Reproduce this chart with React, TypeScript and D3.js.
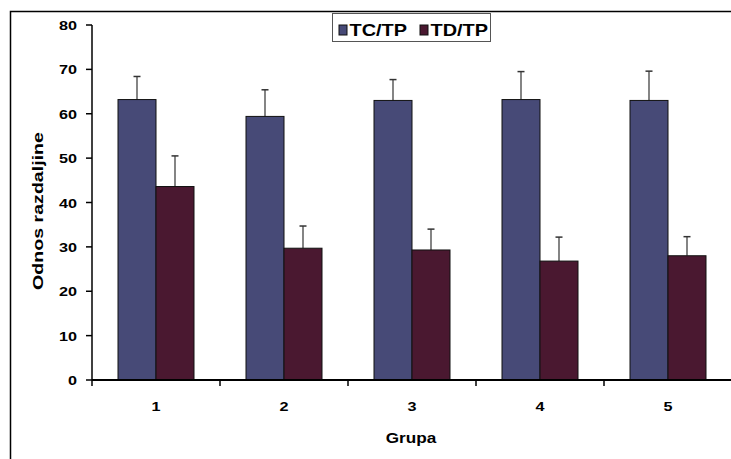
import React from "react";
import * as d3 from "d3";

const groups = ["1", "2", "3", "4", "5"];
const seriesNames = ["TC/TP", "TD/TP"];
const tcValues = [63.2, 59.4, 63.0, 63.2, 63.0];
const tcErrors = [5.2, 6.0, 4.7, 6.3, 6.6];
const tdValues = [43.6, 29.7, 29.3, 26.8, 28.0];
const tdErrors = [6.9, 5.0, 4.7, 5.4, 4.3];
const yTicks = [0, 10, 20, 30, 40, 50, 60, 70, 80];

const W = 731;
const H = 459;
const colors = ["#474A77", "#4A1830"];
const font = "'Liberation Sans', Arial, sans-serif";

export default function App() {
  const x = d3
    .scaleBand<string>()
    .domain(groups)
    .range([92, 732])
    .paddingInner(0.40625)
    .paddingOuter(0.203125);
  const inner = d3
    .scaleBand<string>()
    .domain(seriesNames)
    .range([0, x.bandwidth()]);
  const y = d3.scaleLinear().domain([0, 80]).range([380, 25]);
  const series = [
    { name: seriesNames[0], values: tcValues, errors: tcErrors, color: colors[0] },
    { name: seriesNames[1], values: tdValues, errors: tdErrors, color: colors[1] },
  ];
  const step = x.step();
  const sx = 1.2;

  return (
    <svg
      width={W}
      height={H}
      style={{ position: "absolute", left: 0, top: 0, background: "#fff" }}
      fontFamily={font}
      fontWeight="bold"
    >
      <rect x={10.5} y={11.5} width={760} height={480} fill="#fff" stroke="#000" strokeWidth={1.5} />

      {/* bars */}
      {series.map((s) =>
        groups.map((g, i) => {
          const bx = (x(g) as number) + (inner(s.name) as number);
          const bw = inner.bandwidth();
          const top = y(s.values[i]);
          const cx = bx + bw / 2;
          const et = y(s.values[i] + s.errors[i]);
          return (
            <g key={s.name + g}>
              <line x1={cx} x2={cx} y1={top} y2={et} stroke="#333" strokeWidth={1.2} />
              <line x1={cx - 3.5} x2={cx + 3.5} y1={et} y2={et} stroke="#333" strokeWidth={1.5} />
              <rect x={bx} y={top} width={bw} height={y(0) - top} fill={s.color} stroke="#111" strokeWidth={1} />
            </g>
          );
        })
      )}

      {/* y axis */}
      <line x1={92} x2={92} y1={y(80)} y2={y(0)} stroke="#000" strokeWidth={1.5} />
      {yTicks.map((t) => (
        <g key={t}>
          <line x1={86} x2={92} y1={y(t)} y2={y(t)} stroke="#000" strokeWidth={1.5} />
          <text
            transform={`translate(77,${y(t) + 5}) scale(${sx},1)`}
            textAnchor="end"
            fontSize={13.5}
            fill="#000"
          >
            {t}
          </text>
        </g>
      ))}

      {/* x axis */}
      <line x1={92} x2={732} y1={y(0)} y2={y(0)} stroke="#000" strokeWidth={2} />
      {d3.range(groups.length + 1).map((k) => (
        <line key={k} x1={92 + k * step} x2={92 + k * step} y1={y(0)} y2={y(0) + 6} stroke="#000" strokeWidth={1.5} />
      ))}
      {groups.map((g) => (
        <text
          key={g}
          transform={`translate(${(x(g) as number) + x.bandwidth() / 2},411) scale(${sx},1)`}
          textAnchor="middle"
          fontSize={13.5}
        >
          {g}
        </text>
      ))}

      <text transform={`translate(411,443) scale(1.16,1)`} textAnchor="middle" fontSize={14.8}>
        Grupa
      </text>
      <text
        transform="translate(43,211) rotate(-90)"
        textAnchor="middle"
        fontSize={15}
        textLength={158}
        lengthAdjust="spacingAndGlyphs"
      >
        Odnos razdaljine
      </text>

      {/* legend */}
      <rect x={332.5} y={13.5} width={158} height={28} fill="#fff" stroke="#555" strokeWidth={1} />
      {series.map((s, i) => {
        const lx = i === 0 ? 339 : 420;
        return (
          <g key={s.name}>
            <rect x={lx} y={25} width={8} height={10} fill={s.color} stroke="#111" strokeWidth={1} />
            <text transform={`translate(${lx + 10.5},35.5) scale(1.17,1)`} fontSize={17}>
              {s.name}
            </text>
          </g>
        );
      })}
    </svg>
  );
}
